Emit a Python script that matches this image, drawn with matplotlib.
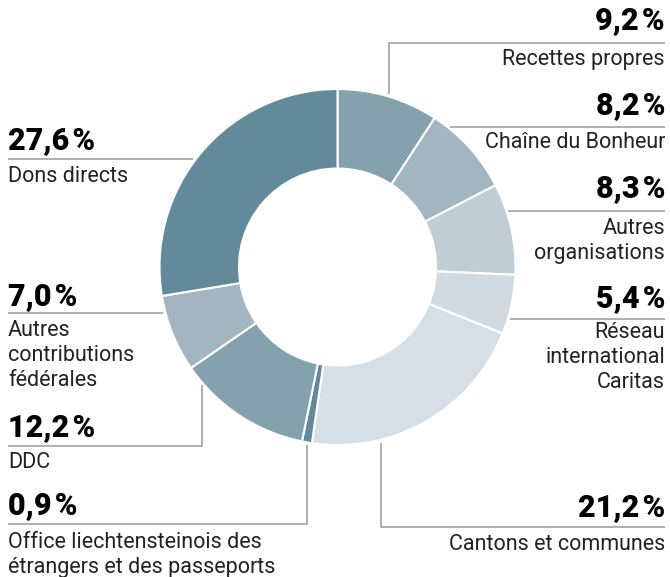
import matplotlib.pyplot as plt

# shares in percent, clockwise from 12 o'clock
labels = ['Recettes propres', 'Chaîne du Bonheur', 'Autres\norganisations',
          'Réseau\ninternational\nCaritas', 'Cantons et communes',
          'Office liechtensteinois des\nétrangers et des passeports', 'DDC',
          'Autres\ncontributions\nfédérales', 'Dons directs']
values = [9.2, 8.2, 8.3, 5.4, 21.2, 0.9, 12.2, 7.0, 27.6]
colors = ['#84a1ae', '#a2b5c0', '#bfcdd5', '#d0dae0', '#d6dfe5',
          '#628a9b', '#84a1ae', '#a2b5c0', '#628a9b']

W, H = 670, 577
fig = plt.figure(figsize=(W / 100, H / 100), dpi=100)
ax = fig.add_axes([0, 0, 1, 1])

def Y(y):
    # pixel row (from top) -> data y
    return H - y

ax.pie(values, colors=colors, startangle=90, counterclock=False,
       center=(337.5, Y(267)), radius=178,
       wedgeprops=dict(width=79.5, edgecolor='white', linewidth=1.5))

# label layout: side, percent y, label y, leader line points (pixel coords)
layout = [
    ('r', 20, 60, [(389, 94), (389, 43), (665, 43)]),
    ('r', 105, 143, [(450, 127), (665, 127)]),
    ('r', 188, 229, [(508, 211), (665, 211)]),
    ('r', 298, 333, [(510, 319), (665, 319)]),
    ('r', 507, 545, [(381, 443), (381, 527), (665, 527)]),
    ('l', 505, 543, [(307, 445), (307, 524), (8, 524)]),
    ('l', 427, 463, [(202, 385), (202, 446), (8, 446)]),
    ('l', 296, 331, [(163, 313), (8, 313)]),
    ('l', 140, 177, [(193, 159), (8, 159)]),
]

line_gap = 24.5
for lab, v, (side, yp, yl, pts) in zip(labels, values, layout):
    xs = [p[0] for p in pts]
    ys = [Y(p[1]) for p in pts]
    ax.plot(xs, ys, color='#9a9a9a', lw=1.1, solid_capstyle='butt')
    x = 665 if side == 'r' else 8
    ha = 'right' if side == 'r' else 'left'
    pct = f'{v:.1f}'.replace('.', ',') + '\u200a%'
    ax.text(x, Y(yp), pct, ha=ha, va='center', fontsize=22,
            fontweight='heavy', family=['Roboto', 'DejaVu Sans'], color='black')
    for i, ln in enumerate(lab.split('\n')):
        ax.text(x, Y(yl + i * line_gap), ln, ha=ha, va='center', fontsize=15.5,
                family=['Roboto', 'DejaVu Sans'], color='#222222')

ax.set_xlim(0, W)
ax.set_ylim(0, H)
ax.set_aspect('equal')
ax.axis('off')

fig.savefig('out.png', dpi=100)
